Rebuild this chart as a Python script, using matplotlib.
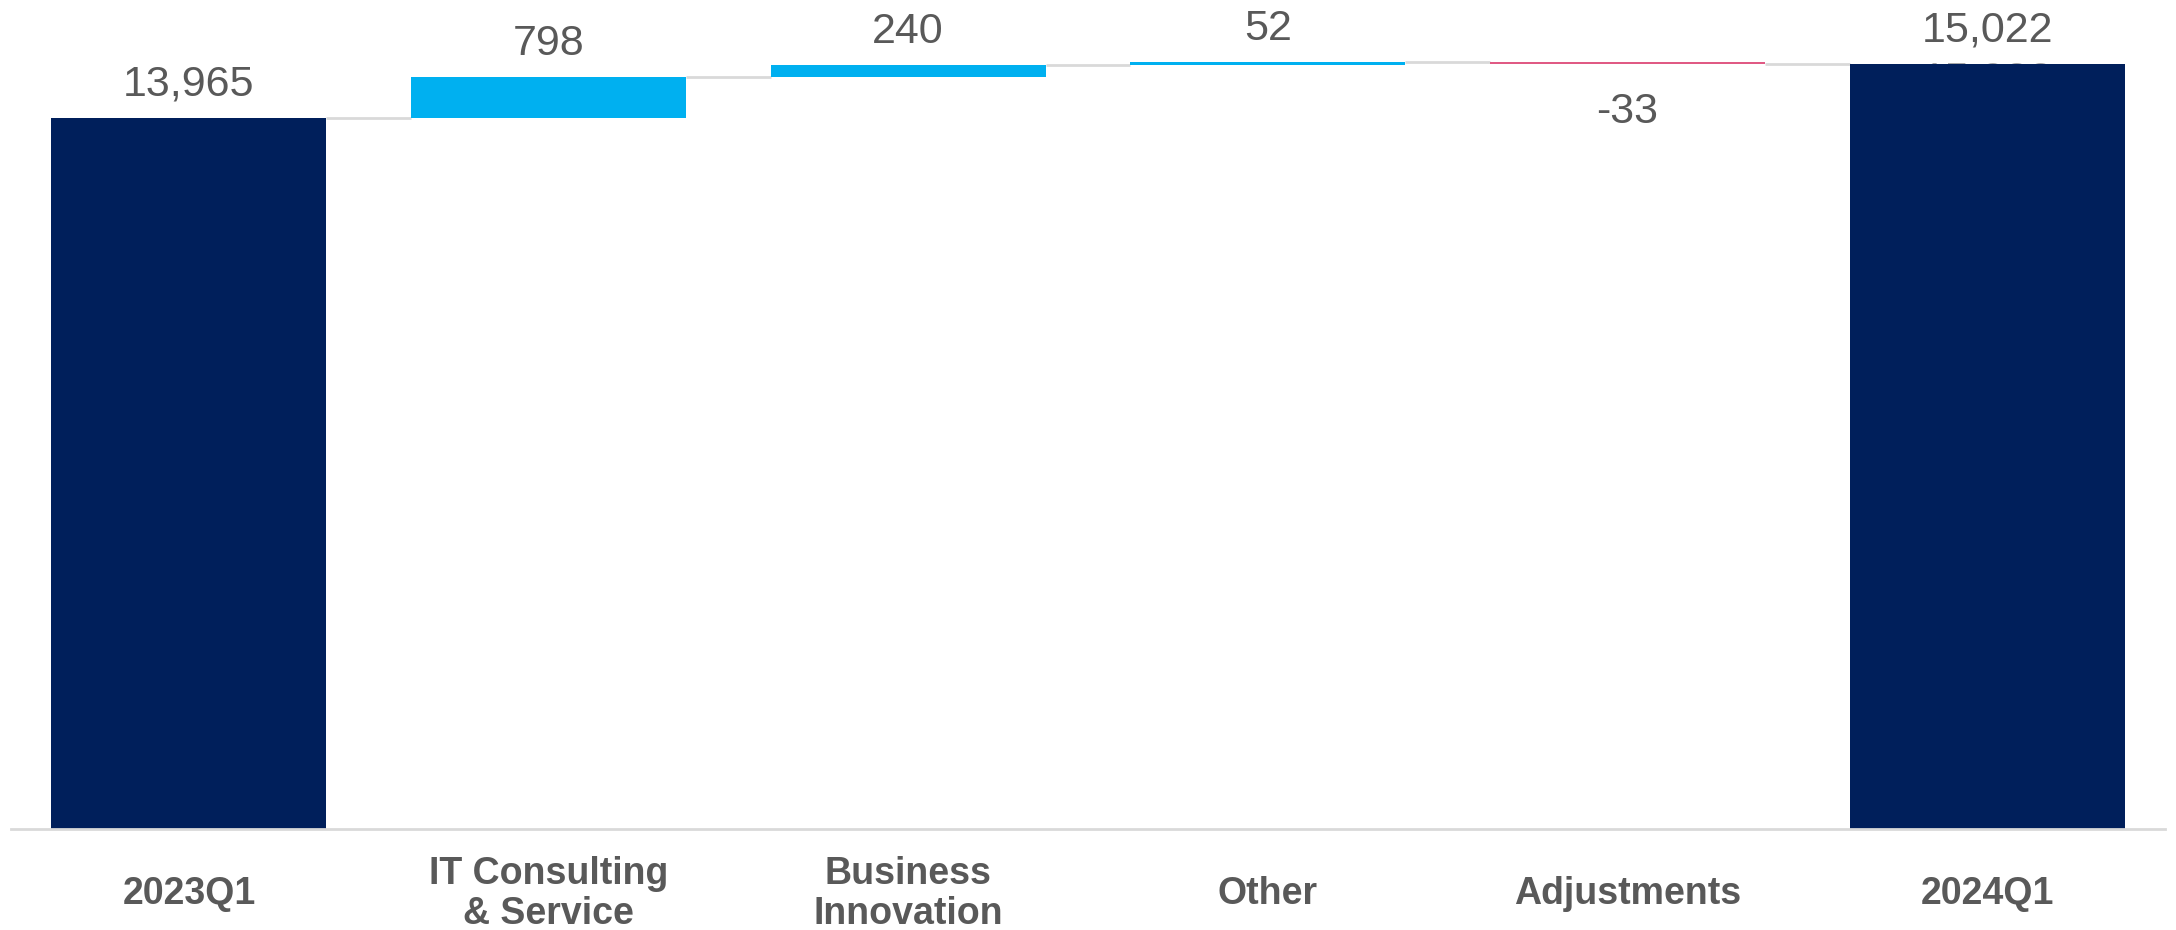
import matplotlib
matplotlib.use('Agg')
import matplotlib.pyplot as plt

# bridge of quarterly revenue, 2023Q1 -> 2024Q1
categories = ['2023Q1', 'IT Consulting\n& Service', 'Business\nInnovation', 'Other', 'Adjustments', '2024Q1']
values = [13965, 798, 240, 52, -33, 15022]
is_total = [True, False, False, False, False, True]

NAVY = '#001F5B'
UP = '#00B0F0'
DOWN = '#E05A84'
GREY_TXT = '#595959'
GREY_LINE = '#D9D9D9'

plt.rcParams['font.family'] = ['Liberation Sans', 'DejaVu Sans']

fig = plt.figure(figsize=(21.76, 9.3), dpi=100)
ax = fig.add_axes([0.005, 0.109, 0.99, 0.891])

width = 0.765
running = 0
bottoms, tops = [], []
for i, (v, tot) in enumerate(zip(values, is_total)):
    if tot:
        b, h = 0, v
        running = v
    else:
        b, h = running, v
        running += v
    bottoms.append(b)
    tops.append(b + h)
    color = NAVY if tot else (UP if v >= 0 else DOWN)
    ax.bar(i, h, bottom=b, width=width, color=color, zorder=2, linewidth=0)

# connectors between neighbouring bars
for i in range(len(values) - 1):
    level = tops[i]
    ax.plot([i + width / 2, i + 1 - width / 2], [level, level], color=GREY_LINE, lw=2, zorder=1,
            solid_capstyle='butt')

# value labels
for i, v in enumerate(values):
    label = f'{v:,}'
    if v >= 0:
        y = max(bottoms[i], tops[i])
        ax.annotate(label, (i, y), xytext=(0, 16), textcoords='offset points', ha='center',
                    va='baseline', fontsize=31, color=GREY_TXT, zorder=3)
    else:
        y = min(bottoms[i], tops[i])
        ax.annotate(label, (i, y), xytext=(0, -20), textcoords='offset points', ha='center',
                    va='top', fontsize=31, color=GREY_TXT, zorder=3)

# stale label left under the last bar
ax.annotate(f'{values[-1]:,}', (5, values[-1]), xytext=(0, -20), textcoords='offset points',
            ha='center', va='baseline', fontsize=31, color='#A6A6A6', zorder=1)

# category labels under the axis
for i, c in enumerate(categories):
    ax.text(i, -0.079, c, transform=ax.get_xaxis_transform(), ha='center', va='center',
            fontsize=27, fontweight='bold', color=GREY_TXT, linespacing=1.15, clip_on=False)

ax.set_xlim(-0.495, 5.495)
ax.set_ylim(0, 16280)
for s in ['top', 'right', 'left']:
    ax.spines[s].set_visible(False)
ax.spines['bottom'].set_color(GREY_LINE)
ax.spines['bottom'].set_linewidth(2)
ax.set_xticks([])
ax.set_yticks([])

fig.savefig('out.png', dpi=100)
